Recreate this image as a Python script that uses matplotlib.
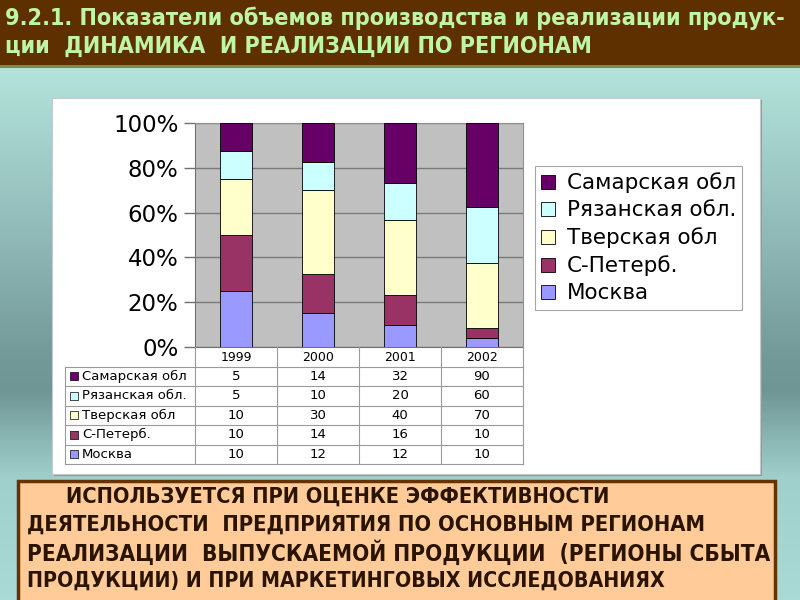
import numpy as np
import matplotlib
matplotlib.use("Agg")
import matplotlib.pyplot as plt
from matplotlib.patches import Rectangle
from matplotlib.colors import LinearSegmentedColormap
from matplotlib import font_manager as fm

# ---------------- data ----------------
years = ["1999", "2000", "2001", "2002"]
# stacking order bottom -> top
regions = ["Москва", "С-Петерб.", "Тверская обл", "Рязанская обл.", "Самарская обл"]
moskva = [10, 12, 12, 10]
spb = [10, 14, 16, 10]
tver = [10, 30, 40, 70]
ryazan = [5, 10, 20, 60]
samara = [5, 14, 32, 90]
series = [moskva, spb, tver, ryazan, samara]
colors = ["#9999ff", "#993366", "#ffffcc", "#ccffff", "#660066"]
yticks = [0, 20, 40, 60, 80, 100]
ytick_labels = ["0%", "20%", "40%", "60%", "80%", "100%"]

title_lines = ["9.2.1. Показатели объемов производства и реализации продук-",
               "ции  ДИНАМИКА  И РЕАЛИЗАЦИИ ПО РЕГИОНАМ"]
note_lines = ["ИСПОЛЬЗУЕТСЯ ПРИ ОЦЕНКЕ ЭФФЕКТИВНОСТИ",
              "ДЕЯТЕЛЬНОСТИ  ПРЕДПРИЯТИЯ ПО ОСНОВНЫМ РЕГИОНАМ",
              "РЕАЛИЗАЦИИ  ВЫПУСКАЕМОЙ ПРОДУКЦИИ  (РЕГИОНЫ СБЫТА",
              "ПРОДУКЦИИ) И ПРИ МАРКЕТИНГОВЫХ ИССЛЕДОВАНИЯХ"]

W, H = 800, 600
fig = plt.figure(figsize=(8, 6), dpi=100)

def fx(x): return x / W
def fy(y): return 1 - y / H
def box(x0, y0, x1, y1): return [fx(x0), fy(y1), fx(x1) - fx(x0), fy(y0) - fy(y1)]

# pick a narrow bold font if any is installed
def narrow_bold():
    cands = []
    for f in fm.fontManager.ttflist:
        nm = (f.name + " " + f.fname).lower()
        isnarrow = ("narrow" in nm or "condensed" in nm or f.stretch in ("condensed", "semi-condensed"))
        bold = (f.weight in ("bold", 700) or "bold" in f.fname.lower()) and "oblique" not in f.fname.lower() \
            and "italic" not in f.fname.lower()
        if isnarrow and bold:
            pri = 0 if "liberation" in nm else (1 if "arial" in nm else (2 if "dejavu" in nm else 3))
            cands.append((pri, f.fname))
    if cands:
        cands.sort()
        return fm.FontProperties(fname=cands[0][1])
    return fm.FontProperties(family="Liberation Sans", weight="bold")

NB = narrow_bold()

# ---------------- background ----------------
bg = fig.add_axes([0, 0, 1, 1], zorder=-10)
cmap = LinearSegmentedColormap.from_list(
    "bg", [(0.0, "#b6e6de"), (0.12, "#b2e2da"), (0.40, "#8fb8b6"), (0.60, "#729898"),
           (0.65, "#6f9595"), (0.80, "#a0d0cc"), (1.0, "#a9dad6")])
grad = np.linspace(0, 1, 300).reshape(-1, 1)
bg.imshow(grad, aspect="auto", cmap=cmap, extent=[0, 1, 0, 1], origin="upper")
bg.set_xlim(0, 1); bg.set_ylim(0, 1)
bg.axis("off")

# header
fig.patches.append(Rectangle((0, fy(65)), 1, 65 / H, transform=fig.transFigure,
                             facecolor="#5e3000", edgecolor="none", zorder=1))
fig.patches.append(Rectangle((0, fy(67.5)), 1, 2.5 / H, transform=fig.transFigure,
                             facecolor="#7c8a48", edgecolor="none", zorder=1))

renderer = fig.canvas.get_renderer()

def fit_text(t, target_w):
    w = t.get_window_extent(renderer).width
    if w > 0:
        t.set_fontsize(t.get_fontsize() * target_w / w)

t1 = fig.text(fx(5), fy(18), title_lines[0], fontproperties=NB, fontsize=16,
              color="#bff5a6", va="center", ha="left", zorder=5)
fit_text(t1, 783)
fs_title = t1.get_fontsize()
t2 = fig.text(fx(5), fy(46), title_lines[1], fontproperties=NB, fontsize=fs_title,
              color="#bff5a6", va="center", ha="left", zorder=5)

# white chart box with shadow
fig.patches.append(Rectangle((fx(54), fy(476)), fx(760) - fx(52), (476 - 100) / H,
                             transform=fig.transFigure, facecolor="#8a9a9a", edgecolor="none", zorder=1))
fig.patches.append(Rectangle((fx(52), fy(474)), fx(760) - fx(52), (474 - 98) / H,
                             transform=fig.transFigure, facecolor="white", edgecolor="#c8c8c8",
                             lw=0.8, zorder=2))

# orange note box
fig.patches.append(Rectangle((fx(18), fy(602)), fx(775) - fx(18), (602 - 481) / H,
                             transform=fig.transFigure, facecolor="#ffcc99", edgecolor="#663300",
                             lw=2.5, zorder=2))
note_x = [66, 27, 27, 27]
note_w = [548, 681, 745, 638]
for i, line in enumerate(note_lines):
    t = fig.text(fx(note_x[i]), fy(497 + i * 28), line, fontproperties=NB, fontsize=15,
                 color="#2a1400", va="center", ha="left", zorder=5)
    fit_text(t, note_w[i])

# ---------------- bar chart ----------------
ax = fig.add_axes(box(195, 123, 523, 347), zorder=3)
ax.set_facecolor("#c0c0c0")
totals = np.sum(np.array(series, dtype=float), axis=0)
x = np.arange(len(years))
bottom = np.zeros(len(years))
for name, vals, c in zip(regions, series, colors):
    pct = np.array(vals) / totals * 100
    ax.bar(x, pct, 0.4, bottom=bottom, color=c, edgecolor="black", linewidth=0.6,
           label=name, zorder=3)
    bottom += pct
ax.set_xlim(-0.5, 3.5)
ax.set_ylim(0, 100)
ax.set_yticks(yticks)
ax.set_yticklabels(ytick_labels, fontsize=16.5, family="DejaVu Sans")
ax.set_xticks([])
ax.yaxis.grid(True, color="#7a7a7a", lw=1.0, zorder=0)
ax.set_axisbelow(True)
ax.tick_params(axis="y", length=8, width=1, color="#707070", pad=4)
for s in ["top", "right"]:
    ax.spines[s].set_color("#909090")
ax.spines["left"].set_color("#707070")
ax.spines["bottom"].set_color("#707070")

# legend (top series first)
handles, labels = ax.get_legend_handles_labels()
leg = fig.legend(handles[::-1], labels[::-1], loc="upper left",
                 bbox_to_anchor=(fx(535), fy(166)), borderaxespad=0,
                 prop={"family": "DejaVu Sans", "size": 15.5}, frameon=True, fancybox=False,
                 edgecolor="#909090", handlelength=0.62, handleheight=0.62,
                 handletextpad=0.55, labelspacing=0.33, borderpad=0.3)
leg.get_frame().set_linewidth(0.8)
leg.set_zorder(6)

# ---------------- data table ----------------
L = (195 - 65) / 82.0
tax = fig.add_axes(box(65, 347, 523, 464), zorder=3)
tax.set_xlim(-0.5 - L, 3.5)
tax.set_ylim(6, 0)
tax.axis("off")
lc = "#9a9a9a"
for b in [-0.5, 0.5, 1.5, 2.5, 3.5]:
    tax.plot([b, b], [0, 6], color=lc, lw=0.8, clip_on=False)
tax.plot([-0.5 - L, -0.5 - L], [1, 6], color=lc, lw=0.8, clip_on=False)
for r in range(1, 7):
    tax.plot([-0.5 - L, 3.5], [r, r], color=lc, lw=0.8, clip_on=False)
for j, yr in enumerate(years):
    tax.text(j, 0.55, yr, ha="center", va="center", fontsize=9, family="DejaVu Sans")
row_order = list(range(len(regions)))[::-1]
for i, k in enumerate(row_order):
    r = i + 1.5
    tax.scatter([-0.5 - L + 8.5 / 82], [r], marker="s", s=30, color=colors[k],
                edgecolor="black", linewidths=0.5, clip_on=False, zorder=4)
    tax.text(-0.5 - L + 17 / 82, r, regions[k], ha="left", va="center", fontsize=9.5,
             family="DejaVu Sans")
    for j in range(len(years)):
        tax.text(j, r, str(series[k][j]), ha="center", va="center", fontsize=9.5,
                 family="DejaVu Sans")

fig.savefig("out.png", dpi=100)
